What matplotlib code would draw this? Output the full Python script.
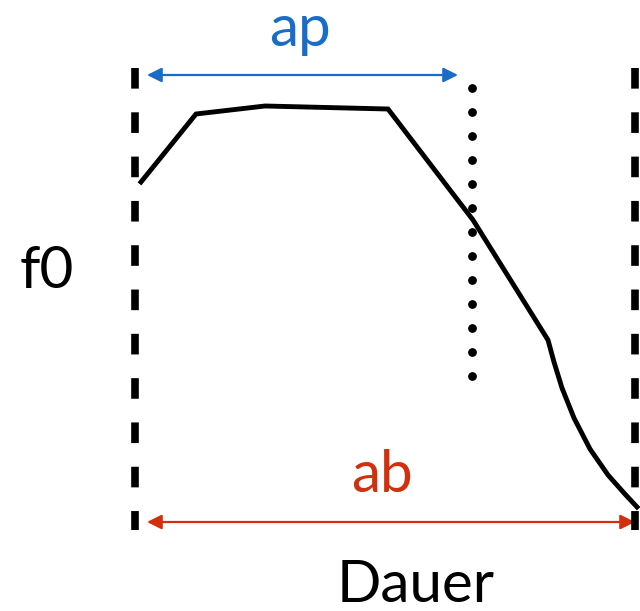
import numpy as np
import matplotlib.pyplot as plt

plt.rcParams['font.family'] = ['Lato', 'DejaVu Sans']

# f0 contour (picture coordinates, y grows downwards)
contour_x = [141, 196, 265, 388, 473, 548, 554, 562, 574, 590, 608, 624, 637]
contour_y = [182, 114, 106, 109, 220, 340, 362, 388, 418, 449, 475, 493, 507]

bound_left = 135
bound_right = 635
bound_top = 68
bound_bottom = 530
dot_x = 472
dot_y = np.arange(88, 380, 24)

ap_span = (147, 458)
ab_span = (147, 635)

fig = plt.figure(figsize=(6.4, 6.11), dpi=100)
ax = fig.add_axes([0, 0, 1, 1])
ax.set_xlim(0, 640)
ax.set_ylim(611, 0)
ax.axis('off')

# dashed boundaries
for bx in (bound_left, bound_right):
    ax.plot([bx, bx], [bound_top, bound_bottom], color='black', lw=5.5,
            dashes=(2.7, 3.1), solid_capstyle='butt', dash_capstyle='butt')

# dotted line
ax.scatter([dot_x] * len(dot_y), dot_y, s=28, color='black', zorder=3)

# contour
ax.plot(contour_x, contour_y, color='black', lw=3.5, solid_joinstyle='miter', zorder=4)

# arrows
ax.annotate('', xy=(ap_span[0], 75), xytext=(ap_span[1], 75),
            arrowprops=dict(arrowstyle='<|-|>', color='#1a6dc6', lw=1.6,
                            mutation_scale=22, shrinkA=0, shrinkB=0))
ax.annotate('', xy=(ab_span[0], 522), xytext=(ab_span[1], 522),
            arrowprops=dict(arrowstyle='<|-|>', color='#d2300d', lw=1.6,
                            mutation_scale=22, shrinkA=0, shrinkB=0), zorder=1)

ax.text(300, 30, 'ap', color='#1a6dc6', fontsize=42, ha='center', va='center')
ax.text(382, 476, 'ab', color='#d2300d', fontsize=42, ha='center', va='center')
ax.text(47, 271, 'f0', color='black', fontsize=42, ha='center', va='center')
ax.text(416, 585, 'Dauer', color='black', fontsize=42, ha='center', va='center')

fig.savefig('out.png', dpi=100)
